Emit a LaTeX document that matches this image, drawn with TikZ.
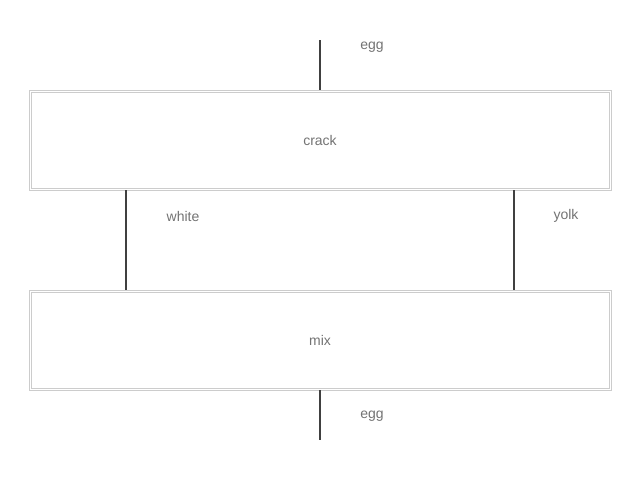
\documentclass[tikz,border=0pt]{standalone}
\usepackage{fontspec}
\setmainfont{Liberation Sans}
\begin{document}
\begin{tikzpicture}[x=1pt,y=-1pt,
  procbox/.style={draw=black!20, line width=0.8pt, minimum width=582pt, minimum height=100pt, inner sep=0pt, font=\fontsize{14}{16}\selectfont, text=black!55},
  innerline/.style={draw=black!20, line width=0.8pt},
  flow/.style={draw=black!75, line width=1.2pt},
  lbl/.style={font=\fontsize{14}{16}\selectfont, text=black!55, inner sep=0pt}]
\useasboundingbox (0,0) rectangle (640,480);
\node[procbox] (crack) at (320,140) {crack};
\node[procbox] (mix) at (320,340) {mix};
\draw[innerline] ([shift={(2.5,2.5)}]crack.north west) rectangle ([shift={(-2.5,-2.5)}]crack.south east);
\draw[innerline] ([shift={(2.5,2.5)}]mix.north west) rectangle ([shift={(-2.5,-2.5)}]mix.south east);
\coordinate (top) at (320,40);
\coordinate (bot) at (320,440);
\draw[flow] (top) -- (crack.north);
\draw[flow] (mix.south) -- (bot);
\draw[flow] (crack.south -| 126,0) coordinate (w1) -- (mix.north -| w1);
\draw[flow] (crack.south -| 514,0) coordinate (y1) -- (mix.north -| y1);
\node[lbl] (egg1) at (372,47) {egg};
\node[lbl] (white) at (183,216) {white};
\node[lbl] (yolk) at (566,216) {yolk};
\node[lbl] (egg2) at (372,416) {egg};
\end{tikzpicture}
\end{document}
